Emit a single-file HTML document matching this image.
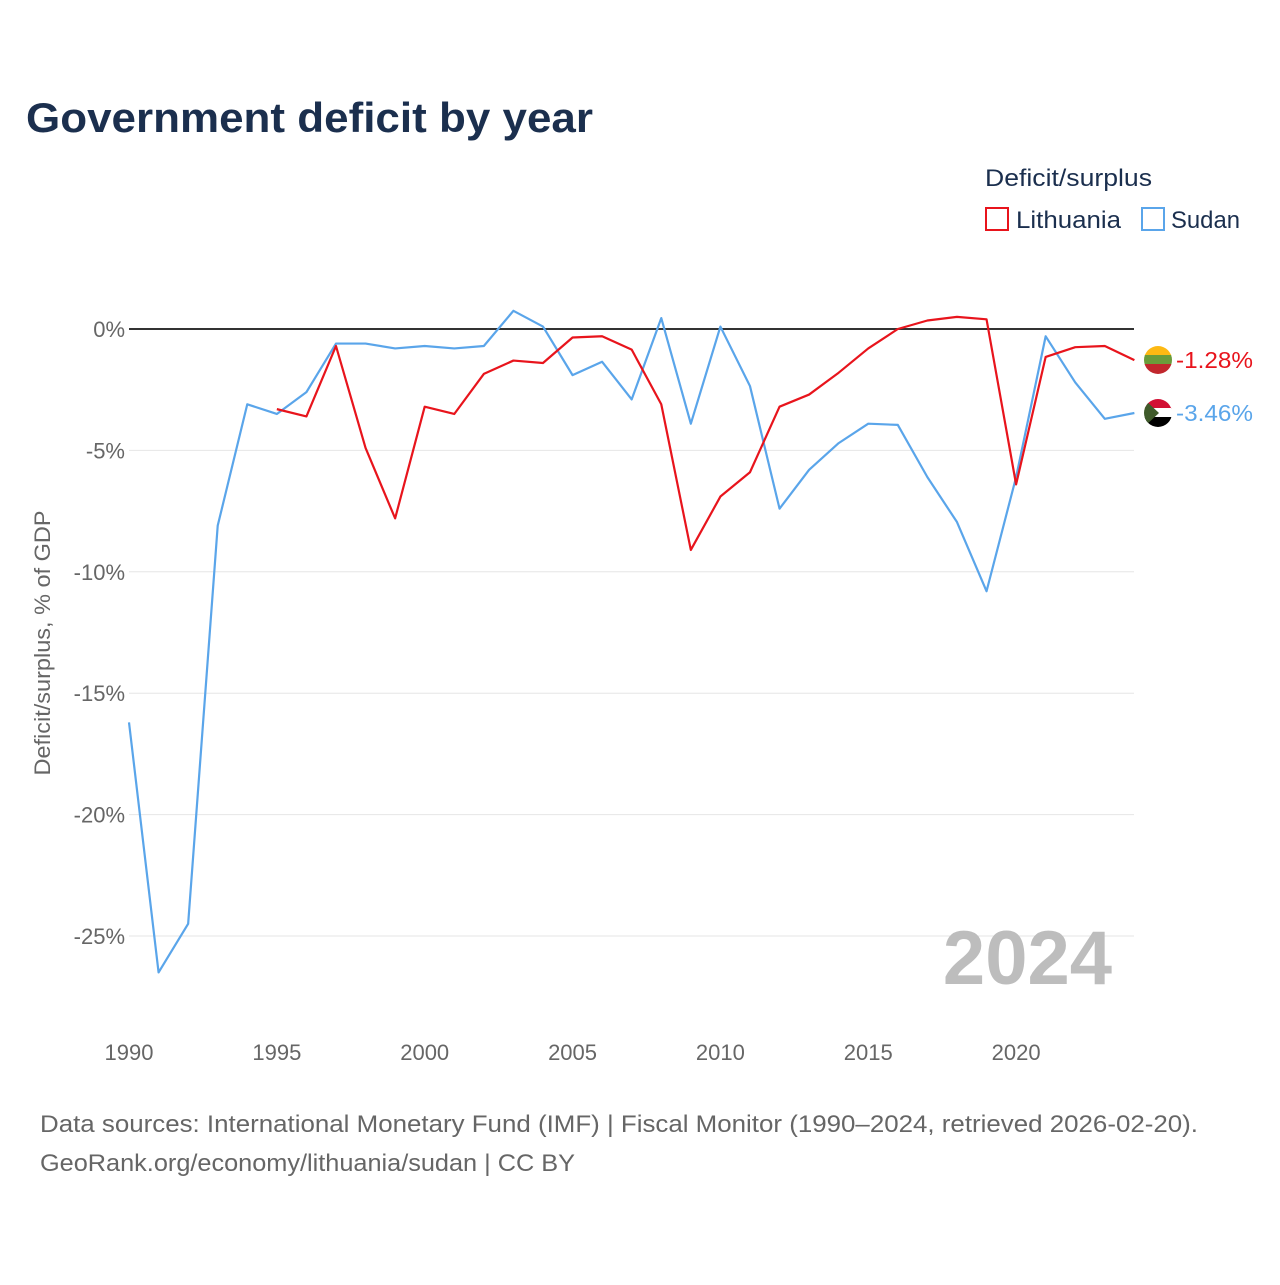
<!DOCTYPE html>
<html><head><meta charset="utf-8"><style>
body{margin:0;background:#fff;font-family:"Liberation Sans",sans-serif;}
svg text{font-family:"Liberation Sans",sans-serif;}
</style></head><body>
<svg id="c" width="1280" height="1280" xmlns="http://www.w3.org/2000/svg">
<text x="26" y="132" font-size="42" font-weight="bold" fill="#1b2f4e" textLength="567" lengthAdjust="spacingAndGlyphs">Government deficit by year</text>
<text x="985" y="186" font-size="24" fill="#1b2f4e" textLength="167" lengthAdjust="spacingAndGlyphs">Deficit/surplus</text>
<g><rect x="986" y="208" width="22" height="22" fill="none" stroke="#e8141c" stroke-width="2"/><text x="1016" y="228" font-size="24" fill="#1b2f4e" textLength="105" lengthAdjust="spacingAndGlyphs">Lithuania</text></g>
<g><rect x="1142" y="208" width="22" height="22" fill="none" stroke="#5aa5ea" stroke-width="2"/><text x="1171" y="228" font-size="24" fill="#1b2f4e" textLength="69" lengthAdjust="spacingAndGlyphs">Sudan</text></g>
<g id="grid"></g><g id="lines"></g><g id="xt"></g>
<text transform="translate(50,643) rotate(-90)" text-anchor="middle" font-size="22" fill="#666" textLength="265" lengthAdjust="spacingAndGlyphs">Deficit/surplus, % of GDP</text>
<text x="1112" y="984" text-anchor="end" font-size="76" font-weight="bold" fill="#bdbdbd">2024</text>
<text x="40" y="1132" font-size="24" fill="#666" textLength="1158" lengthAdjust="spacingAndGlyphs">Data sources: International Monetary Fund (IMF) | Fiscal Monitor (1990–2024, retrieved 2026-02-20).</text>
<text x="40" y="1171" font-size="24" fill="#666" textLength="535" lengthAdjust="spacingAndGlyphs">GeoRank.org/economy/lithuania/sudan | CC BY</text>
<defs><clipPath id="cl"><circle cx="1158" cy="360" r="14"/></clipPath><clipPath id="cs"><circle cx="1158" cy="413" r="14"/></clipPath></defs>
<g clip-path="url(#cl)"><rect x="1144" y="346" width="28" height="10" fill="#fdb913"/><rect x="1144" y="355" width="28" height="10" fill="#6a9c3a"/><rect x="1144" y="364" width="28" height="10" fill="#c1272d"/></g>
<g clip-path="url(#cs)"><rect x="1144" y="399" width="28" height="10" fill="#d21034"/><rect x="1144" y="408" width="28" height="10" fill="#fff"/><rect x="1144" y="417" width="28" height="10" fill="#000"/><polygon points="1144,399 1159,413 1144,427" fill="#3f5a2a"/></g>
<text x="1176" y="368" font-size="23" fill="#e8141c" textLength="77" lengthAdjust="spacingAndGlyphs">-1.28%</text>
<text x="1176" y="421" font-size="23" fill="#5aa5ea" textLength="77" lengthAdjust="spacingAndGlyphs">-3.46%</text>
</svg>
<script>
const yTicks=[0,-5,-10,-15,-20,-25];
const xTicks=[1990,1995,2000,2005,2010,2015,2020];
const sudanStart=1990;
const sudan=[-16.2,-26.5,-24.5,-8.1,-3.1,-3.5,-2.6,-0.6,-0.6,-0.8,-0.7,-0.8,-0.7,0.75,0.1,-1.9,-1.35,-2.9,0.45,-3.9,0.1,-2.35,-7.4,-5.8,-4.7,-3.9,-3.95,-6.1,-7.95,-10.8,-6.1,-0.3,-2.2,-3.7,-3.46];
const lithStart=1995;
const lithuania=[-3.3,-3.6,-0.7,-4.9,-7.8,-3.2,-3.5,-1.85,-1.3,-1.4,-0.35,-0.3,-0.85,-3.1,-9.1,-6.9,-5.9,-3.2,-2.7,-1.8,-0.8,0,0.35,0.5,0.4,-6.4,-1.15,-0.75,-0.7,-1.28];
const X=y=>129+(y-1990)*29.57, Y=v=>329-v*24.28;
const NS="http://www.w3.org/2000/svg";
function mk(t,a,p){const e=document.createElementNS(NS,t);for(const k in a)e.setAttribute(k,a[k]);document.getElementById(p).appendChild(e);return e;}
yTicks.forEach(v=>{
 const l=mk('line',{x1:129,x2:1134,y1:Y(v),y2:Y(v),stroke:v===0?'#333':'#e6e6e6','stroke-width':v===0?2:1},'grid');
 
 
 const t=mk('text',{x:125,y:Y(v)+8,'text-anchor':'end','font-size':22,fill:'#666'},'grid');
 t.textContent=v+'%';
 
 
});
xTicks.forEach(y=>{
 const t=mk('text',{x:X(y),y:1060,'text-anchor':'middle','font-size':22,fill:'#666'},'xt');
 t.textContent=y;
 
 
});
function line(d,s,c,n){
 const p=mk('polyline',{points:d.map((v,i)=>X(s+i)+','+Y(v)).join(' '),fill:'none',stroke:c,'stroke-width':2.2,'stroke-linejoin':'round'},'lines');
 
 
}
line(sudan,sudanStart,'#5aa5ea','sudan-line');
line(lithuania,lithStart,'#e8141c','lithuania-line');
</script>
</body></html>
